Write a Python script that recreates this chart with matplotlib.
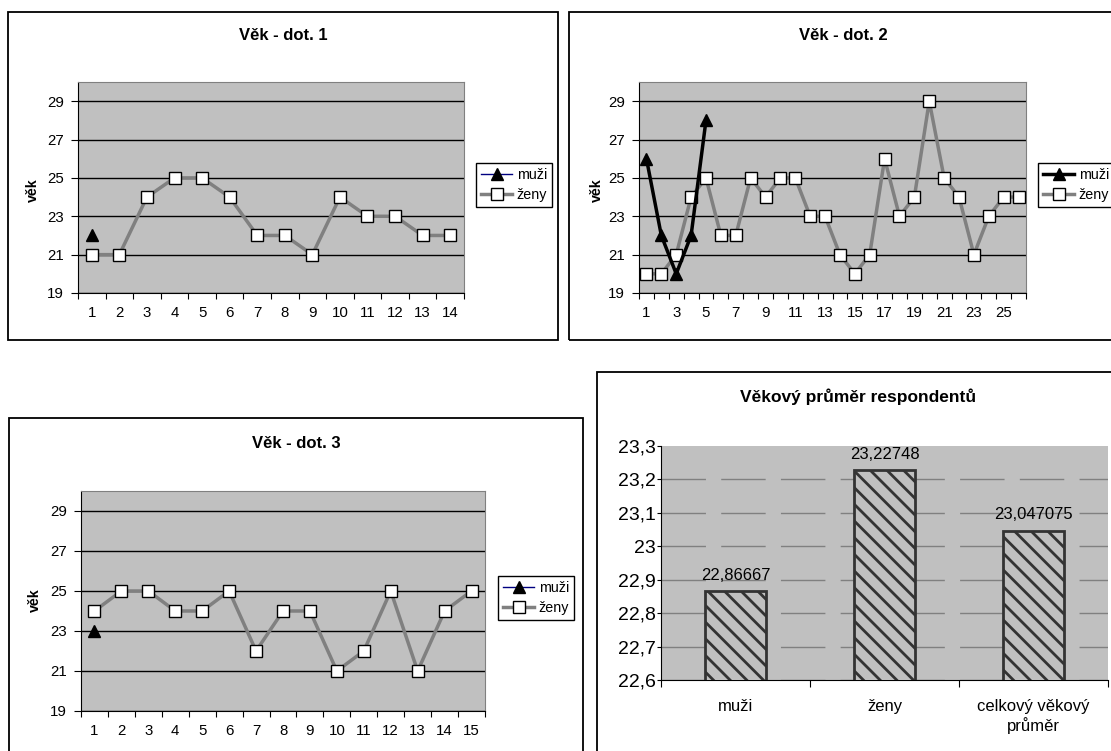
import numpy as np
import matplotlib
matplotlib.use("Agg")
import matplotlib.pyplot as plt
from matplotlib.patches import Rectangle
from matplotlib.ticker import FuncFormatter

plt.rcParams['font.family'] = ['Liberation Sans', 'DejaVu Sans']
plt.rcParams['hatch.linewidth'] = 2.0

# --- data ---
titles = ['Věk - dot. 1', 'Věk - dot. 2', 'Věk - dot. 3']
muzi_1 = [22]
zeny_1 = [21, 21, 24, 25, 25, 24, 22, 22, 21, 24, 23, 23, 22, 22]
muzi_2 = [26, 22, 20, 22, 28]
zeny_2 = [20, 20, 21, 24, 25, 22, 22, 25, 24, 25, 25, 23, 23, 21, 20, 21, 26,
          23, 24, 29, 25, 24, 21, 23, 24, 24]
muzi_3 = [23]
zeny_3 = [24, 25, 25, 24, 24, 25, 22, 24, 24, 21, 22, 25, 21, 24, 25]

bar_title = 'Věkový průměr respondentů'
bar_cats = ['muži', 'ženy', 'celkový věkový\nprůměr']
bar_vals = [22.86667, 23.22748, 23.047075]

W, H = 1111, 751
FS = 10.3     # legend / axis title
TS = 10.8     # tick labels
fig = plt.figure(figsize=(W / 100, H / 100), dpi=100)


def rect(x0, y0, x1, y1):
    return [x0 / W, 1 - y1 / H, (x1 - x0) / W, (y1 - y0) / H]


def frame(x0, y0, x1, y1):
    fig.add_artist(Rectangle((x0 / W, 1 - y1 / H), (x1 - x0) / W, (y1 - y0) / H,
                             transform=fig.transFigure, fill=False,
                             ec='black', lw=1.3))


def line_panel(box, zeny, muzi, title, tpos, ypos, legpos, every=1, bold_men=False):
    ax = fig.add_axes(rect(*box))
    n = len(zeny)
    x = np.arange(n)
    ax.set_facecolor('#c0c0c0')
    ax.set_xlim(-0.5, n - 0.5)
    ax.set_ylim(19, 30)
    ax.set_yticks(np.arange(19, 30, 2))
    ax.yaxis.grid(True, color='black', lw=1)
    ax.set_axisbelow(True)
    for s in ['top', 'right']:
        ax.spines[s].set_color('#808080')
    for s in ['left', 'bottom']:
        ax.spines[s].set_color('black')
    ax.set_xticks(np.arange(n + 1) - 0.5)
    ax.set_xticklabels([])
    ax.set_xticks(x, minor=True)
    ax.set_xticklabels([str(i + 1) if i % every == 0 else '' for i in x], minor=True)
    ax.tick_params(axis='x', which='major', length=4, direction='out')
    ax.tick_params(axis='x', which='minor', length=0, pad=9.5, labelsize=TS)
    ax.tick_params(axis='y', length=5, pad=5, labelsize=TS)

    if bold_men:
        ax.plot(np.arange(len(muzi)), muzi, color='black', lw=2.5, marker='^',
                ms=8.5, mfc='black', mec='black', label='muži', zorder=4)
    else:
        ax.plot(np.arange(len(muzi)), muzi, color='#000080', lw=1, marker='^',
                ms=8.5, mfc='black', mec='black', label='muži', zorder=4)
    ax.plot(x, zeny, color='#808080', lw=2.5, marker='s', ms=8.5,
            mfc='white', mec='black', mew=1, label='ženy', zorder=3)

    leg = ax.legend(loc='upper left', bbox_to_anchor=(legpos[0] / W, 1 - legpos[1] / H),
                    bbox_transform=fig.transFigure, fancybox=False, edgecolor='black',
                    framealpha=1, borderaxespad=0, borderpad=0.35, handlelength=2.2,
                    handletextpad=0.3, labelspacing=0.45, fontsize=FS, numpoints=1)
    leg.get_frame().set_linewidth(1)

    fig.text(tpos[0] / W, 1 - tpos[1] / H, title, ha='center', va='center',
             fontsize=12, fontweight='bold')
    fig.text(ypos[0] / W, 1 - ypos[1] / H, 'věk', ha='center', va='center',
             rotation=90, fontsize=FS, fontweight='bold')
    return ax


frame(8, 12, 558, 340)
frame(569, 12, 1125, 340)
frame(9, 418, 583, 765)
frame(597, 372, 1125, 765)

line_panel((78, 82, 464, 293), zeny_1, muzi_1, titles[0], (283, 36), (33, 190), (476, 163))
line_panel((639, 82, 1026, 293), zeny_2, muzi_2, titles[1], (843, 36), (597, 190), (1038, 163),
           every=2, bold_men=True)
line_panel((81, 491, 485, 711), zeny_3, muzi_3, titles[2], (296, 443), (35, 600), (498, 576))

# --- bar panel ---
ax = fig.add_axes(rect(661, 446, 1108, 680))
ax.set_facecolor('#c0c0c0')
xb = np.arange(len(bar_vals))
bars = ax.bar(xb, bar_vals, width=0.41, color='#c0c0c0', edgecolor='#333333',
              lw=2, hatch='\\\\', zorder=3)
ax.set_xlim(-0.5, len(bar_vals) - 0.5)
ax.set_ylim(22.6, 23.3)
ax.set_yticks(np.round(np.arange(22.6, 23.31, 0.1), 1))
ax.yaxis.set_major_formatter(FuncFormatter(lambda v, p: f"{v:.1f}".replace('.0', '').replace('.', ',')))
ax.yaxis.grid(True, color='#808080', lw=1, linestyle=(0, (32, 11)))
ax.yaxis.get_gridlines()[-1].set_visible(False)
ax.set_axisbelow(True)
for s in ['top', 'right']:
    ax.spines[s].set_visible(False)
ax.spines['left'].set_color('black')
ax.spines['bottom'].set_color('black')
ax.set_xticks(np.arange(len(bar_vals) + 1) - 0.5)
ax.set_xticklabels([])
ax.set_xticks(xb, minor=True)
ax.set_xticklabels(bar_cats, minor=True)
ax.tick_params(axis='x', which='major', length=5, direction='out')
ax.tick_params(axis='x', which='minor', length=0, pad=14, labelsize=12)
ax.tick_params(axis='y', length=3, pad=1, labelsize=14)
ax.bar_label(bars, labels=[str(v).replace('.', ',') for v in bar_vals],
             padding=6, fontsize=12)
fig.text(858 / W, 1 - 397 / H, bar_title, ha='center', va='center',
         fontsize=12.5, fontweight='bold')

fig.savefig('out.png', dpi=100)
